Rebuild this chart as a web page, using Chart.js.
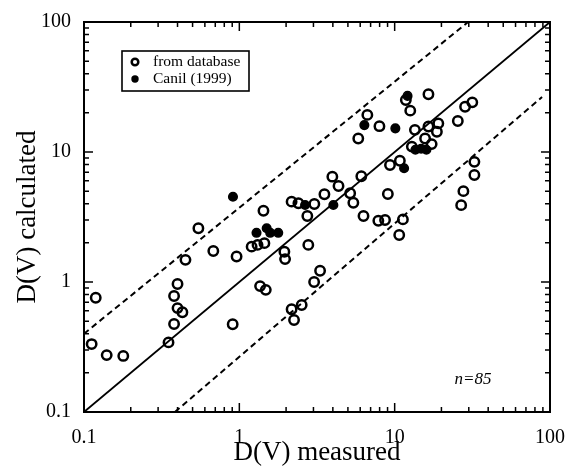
<!DOCTYPE html>
<html><head><meta charset="utf-8">
<script src="https://cdn.jsdelivr.net/npm/chart.js@4/dist/chart.umd.min.js"></script>
<style>html,body{margin:0;padding:0;background:#fff}#wrap{width:582px;height:470px}</style>
</head><body><div id="wrap"><canvas id="c" width="582" height="470"></canvas></div>
<script>
// "from database" (open circles)
const dbMeasured = [0.119,0.112,0.14,0.179,0.35,0.38,0.40,0.43,0.38,0.40,0.45,0.545,0.68,0.906,0.96,1.20,1.31,1.45,1.43,1.36,1.48,1.95,1.97,2.17,2.40,3.04,2.74,2.78,3.31,3.03,2.52,2.17,2.25,3.53,3.97,4.35,5.17,5.42,6.1,6.3,7.85,8.67,11.3,10.7,9.04,9.33,10.8,5.83,6.67,7.98,11.8,12.6,16.5,13.5,16.5,19.1,18.7,15.7,12.9,17.3,25.5,28.4,31.6,32.6,32.6,27.7,26.8];
const dbCalculated = [0.757,0.333,0.274,0.27,0.343,0.475,0.63,0.585,0.78,0.966,1.48,2.59,1.73,0.473,1.57,1.87,1.93,1.99,3.53,0.93,0.87,1.71,1.50,4.15,4.03,3.98,3.22,1.93,1.22,1.0,0.665,0.617,0.51,4.73,6.46,5.47,4.81,4.07,6.5,3.22,2.96,3.0,3.03,2.3,4.75,7.94,8.57,12.7,19.3,15.8,25.1,20.8,27.8,14.8,15.7,16.6,14.3,12.7,11.0,11.5,17.3,22.3,24.1,8.4,6.65,5.0,3.9];
// Canil (1999) (filled circles)
const canilMeasured = [0.91,1.29,1.50,1.58,1.78,2.65,4.03,6.38,10.1,12.1,11.5,13.6,14.8,16.0];
const canilCalculated = [4.53,2.39,2.59,2.39,2.39,3.91,3.91,16.1,15.2,27.0,7.5,10.4,10.6,10.4];
// reference lines
const oneToOneX = [0.1, 100], oneToOneY = [0.1, 100];
const upperX = [0.1, 29.7], upperY = [0.40, 100];
const lowerX = [0.385, 88.9], lowerY = [0.1, 26.5];
const tickValues = [0.1, 1, 10, 100];
const seriesNames = ['from database', 'Canil (1999)'];
const sampleLabel = 'n=85';
const xTitle = 'D(V) measured', yTitle = 'D(V) calculated';

const pts = (xs, ys) => xs.map((x, i) => ({x, y: ys[i]}));
const SERIF = "'Liberation Serif', 'Times New Roman', serif";

const framePlugin = {
  id: 'frame',
  afterDraw(chart) {
    const {ctx, chartArea: a, scales: {x, y}} = chart;
    ctx.save();
    ctx.strokeStyle = '#000';
    ctx.lineWidth = 2;
    ctx.strokeRect(a.left, a.top, a.right - a.left, a.bottom - a.top);
    ctx.lineWidth = 1.5;
    ctx.beginPath();
    const vals = [];
    [0.1, 1, 10].forEach(d => { for (let m = 1; m <= 9; m++) vals.push([d * m, m === 1]); });
    vals.push([100, true]);
    vals.forEach(([v, major]) => {
      const L = major ? 9 : 5;
      const px = x.getPixelForValue(v), py = y.getPixelForValue(v);
      ctx.moveTo(px, a.bottom); ctx.lineTo(px, a.bottom - L);
      ctx.moveTo(px, a.top); ctx.lineTo(px, a.top + L);
      ctx.moveTo(a.left, py); ctx.lineTo(a.left + L, py);
      ctx.moveTo(a.right, py); ctx.lineTo(a.right - L, py);
    });
    ctx.stroke();
    // legend box
    const lx = a.left + 38, ly = a.top + 29, lw = 127, lh = 40;
    ctx.fillStyle = '#fff';
    ctx.fillRect(lx, ly, lw, lh);
    ctx.lineWidth = 1.6;
    ctx.strokeRect(lx, ly, lw, lh);
    ctx.beginPath();
    ctx.lineWidth = 2.5;
    ctx.arc(lx + 13, ly + 11, 3.3, 0, Math.PI * 2);
    ctx.stroke();
    ctx.beginPath();
    ctx.fillStyle = '#000';
    ctx.arc(lx + 13, ly + 28, 3.7, 0, Math.PI * 2);
    ctx.fill();
    ctx.font = '15.5px ' + SERIF;
    ctx.textBaseline = 'middle';
    ctx.textAlign = 'left';
    ctx.fillText(seriesNames[0], lx + 31, ly + 11);
    ctx.fillText(seriesNames[1], lx + 31, ly + 28);
    // n label
    ctx.font = 'italic 17px ' + SERIF;
    ctx.textAlign = 'center';
    ctx.fillText(sampleLabel, a.right - 77, a.bottom - 32);
    ctx.restore();
  }
};

const axisCommon = (title, isX) => ({
  type: 'logarithmic',
  min: 0.1, max: 100,
  position: isX ? 'bottom' : 'left',
  grid: {display: false},
  border: {display: false},
  afterBuildTicks: s => { s.ticks = tickValues.map(v => ({value: v, major: true})); },
  afterFit: s => {
    if (isX) { s.height = 58; s.paddingLeft = 0; s.paddingRight = 0; }
    else { s.width = 84; s.paddingTop = 0; s.paddingBottom = 0; }
  },
  ticks: {
    autoSkip: false, maxRotation: 0, minRotation: 0,
    color: '#000',
    padding: isX ? 6 : 5,
    font: {family: SERIF, size: 20},
    callback: v => String(v)
  },
  title: {
    display: true, text: title, color: '#000',
    font: {family: SERIF, size: 27},
    padding: isX ? {top: 0, bottom: 1} : {top: 12, bottom: 0}
  }
});

new Chart(document.getElementById('c'), {
  type: 'scatter',
  data: {
    datasets: [
      {label: seriesNames[1], data: pts(canilMeasured, canilCalculated), order: 0,
       pointRadius: 4.3, pointBorderWidth: 1.5, pointBackgroundColor: '#000', pointBorderColor: '#000'},
      {label: seriesNames[0], data: pts(dbMeasured, dbCalculated), order: 1,
       pointRadius: 4.7, pointBorderWidth: 2.5, pointBackgroundColor: 'rgba(0,0,0,0)', pointBorderColor: '#000'},
      {label: '1:1', data: pts(oneToOneX, oneToOneY), order: 2, showLine: true,
       borderColor: '#000', borderWidth: 1.8, pointRadius: 0},
      {label: 'upper', data: pts(upperX, upperY), order: 2, showLine: true,
       borderColor: '#000', borderWidth: 2, borderDash: [6, 4], pointRadius: 0},
      {label: 'lower', data: pts(lowerX, lowerY), order: 2, showLine: true,
       borderColor: '#000', borderWidth: 2, borderDash: [6, 4], pointRadius: 0}
    ]
  },
  options: {
    responsive: false, animation: false, devicePixelRatio: 1,
    layout: {padding: {top: 22, right: 32, left: 0, bottom: 0}},
    plugins: {legend: {display: false}, tooltip: {enabled: false}},
    scales: {x: axisCommon(xTitle, true), y: axisCommon(yTitle, false)}
  },
  plugins: [framePlugin]
});
</script>
</body></html>
